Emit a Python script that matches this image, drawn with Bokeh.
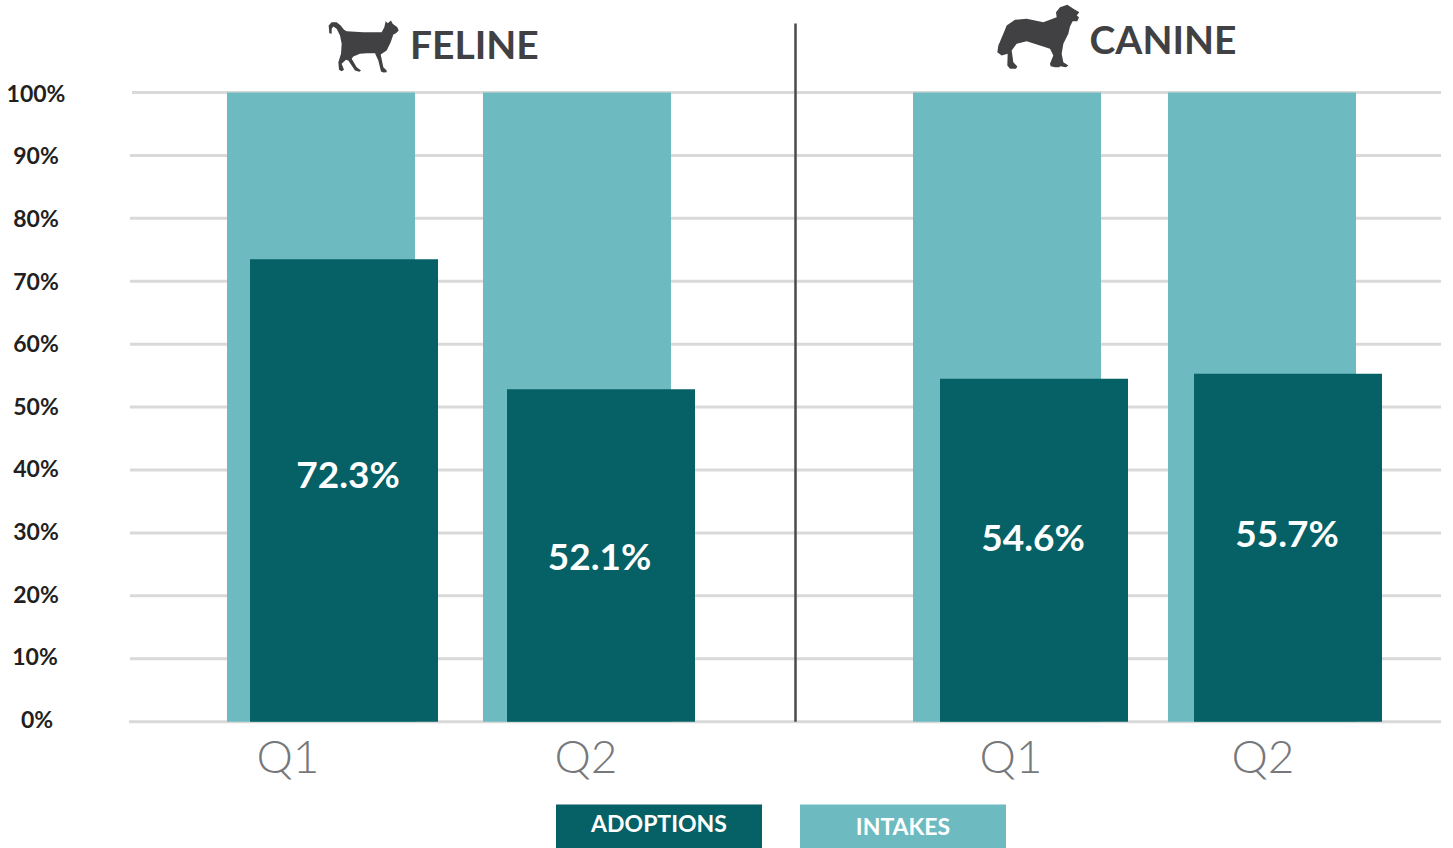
from bokeh.embed import file_html
from bokeh.resources import INLINE
from bokeh.plotting import figure
from bokeh.models import Range1d
from bokeh.core.properties import value

# ---- data ----
groups = ["FELINE", "FELINE", "CANINE", "CANINE"]
quarters = ["Q1", "Q2", "Q1", "Q2"]
intakes = [100, 100, 100, 100]
adoptions = [73.5, 52.85, 54.5, 55.3]
adoption_labels = ["72.3%", "52.1%", "54.6%", "55.7%"]
tick_values = [0, 10, 20, 30, 40, 50, 60, 70, 80, 90, 100]
tick_labels = ["0%", "10%", "20%", "30%", "40%", "50%", "60%", "70%", "80%", "90%", "100%"]
legend_names = ["ADOPTIONS", "INTAKES"]

# ---- layout (page pixels) ----
W, H = 1453, 848
Y0, Y100 = 721.2, 92
unit = (Y0 - Y100) / 100


def v(py):
    return (Y0 - py) / unit


DARK, LIGHT = "#056165", "#6dbbc0"
INK, GREY, SLATE = "#231f20", "#77787b", "#414042"
FONT = value("Lato")

intake_x = [321, 577, 1007, 1262]
adopt_x = [344, 601, 1034, 1288]
BAR_W = 188
label_x = [348, 599.5, 1033, 1287]
label_py = [473, 555, 536, 532]
q_x = [288, 586, 1011, 1263]
tick_x = [37, 35, 36, 36, 36, 36, 36, 36, 36, 36, 36]
tick_py = [718.5, 655.5, 593, 530, 467.5, 405, 342.5, 280, 217, 154, 92]
grid_x0 = [129, 130, 130, 130, 130, 130, 130, 130, 130, 130, 132]

p = figure(width=W, height=H, output_backend="svg", toolbar_location=None,
           x_range=Range1d(0.5, W + 0.5), y_range=Range1d(v(H), v(0)),
           min_border=0, min_border_left=0, min_border_right=0, min_border_top=0, min_border_bottom=0,
           outline_line_color=None)
p.xaxis.visible = False
p.yaxis.visible = False
p.xgrid.visible = False
p.ygrid.visible = False

# grid
p.segment(x0=grid_x0, x1=[1441] * len(tick_values), y0=tick_values, y1=tick_values,
          line_color="#d9d9d9", line_width=3)

# bars
p.vbar(x=intake_x, top=intakes, bottom=0, width=BAR_W, fill_color=LIGHT, line_color=None)
p.vbar(x=adopt_x, top=adoptions, bottom=0, width=BAR_W, fill_color=DARK, line_color=None)
p.text(x=label_x, y=[v(q) for q in label_py], text=adoption_labels, text_color="white",
       text_font=FONT, text_font_style="bold", text_font_size="37px",
       text_align="center", text_baseline="middle")

# y labels
p.text(x=tick_x, y=[v(q) for q in tick_py], text=tick_labels, text_color=INK, text_font=FONT,
       text_font_style="bold", text_font_size="23px", text_align="center", text_baseline="middle")

# quarter labels
p.text(x=q_x, y=[v(755)] * 4, text=quarters, text_color=GREY, text_font=value("Lato Light"),
       text_font_size="46px", text_align="center", text_baseline="middle")

# divider
p.segment(x0=[795.5], x1=[795.5], y0=[0], y1=[v(23)], line_color="#4a4a4c", line_width=2.5)

# group titles
p.text(x=[410], y=[v(43)], text=[groups[0]], text_color=SLATE, text_font=FONT, text_font_style="bold",
       text_font_size="39px", text_align="left", text_baseline="middle")
p.text(x=[1089.5], y=[v(38)], text=[groups[2]], text_color=SLATE, text_font=FONT, text_font_style="bold",
       text_font_size="39px", text_align="left", text_baseline="middle")

# legend
p.rect(x=[659, 903], y=[v(826)] * 2, width=206, height=44 / unit,
       fill_color=[DARK, LIGHT], line_color=None)
p.text(x=[659, 903], y=[v(822.5), v(825)], text=legend_names, text_color="white", text_font=FONT,
       text_font_style="bold", text_font_size="23px", text_align="center", text_baseline="middle")

# icons
cat = [(28,68),(26,45),(35,35),(50,35),(62,45),(72,58),(80,62),(130,65),(185,65),(193,50),(197,32),(203,38),
       (213,30),(218,40),(232,50),(236,60),(228,68),(220,72),(212,95),(200,120),(182,132),(190,170),(200,180),
       (200,185),(190,186),(183,183),(175,150),(165,128),(140,128),(120,130),(100,138),(95,145),(110,170),
       (123,180),(118,184),(105,180),(85,150),(78,148),(65,160),(72,178),(65,182),(57,178),(55,155),(63,130),
       (65,100),(60,75),(50,55),(40,48),(35,55),(35,70)]
dog = [(358,35),(350,45),(357,50),(352,62),(338,62),(330,78),(325,100),(310,130),(305,160),(310,185),(325,195),
       (318,200),(300,197),(298,200),(285,200),(272,197),(270,190),(280,165),(270,145),(240,135),(200,122),
       (170,130),(155,150),(160,185),(172,198),(168,205),(150,205),(142,195),(143,160),(125,165),(112,155),
       (115,135),(130,100),(140,75),(165,58),(200,55),(250,65),(290,50),(288,35),(300,20),(322,13),(340,25)]
p.patch(x=[320 + a / 3 for a, b in cat], y=[v(10 + b / 3) for a, b in cat], fill_color=SLATE, line_color=None)
p.patch(x=[960 + a / 3 for a, b in dog], y=[v(b / 3) for a, b in dog], fill_color=SLATE, line_color=None)

open("out.html", "w").write(file_html(p, INLINE))
